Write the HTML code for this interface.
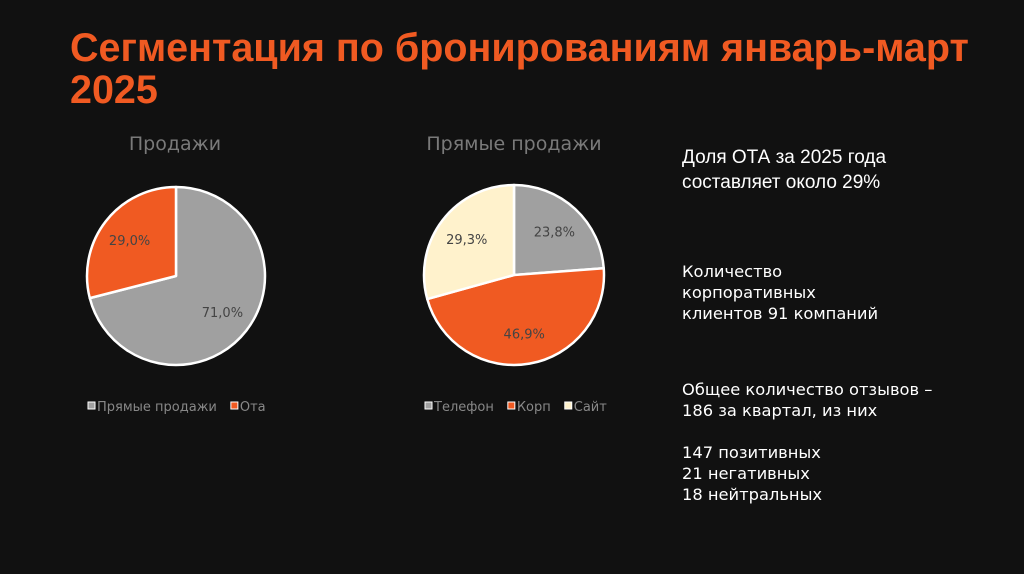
<!DOCTYPE html>
<html><head><meta charset="utf-8"><style>
body{margin:0;background:#111111;width:1024px;height:574px;overflow:hidden;font-family:"Liberation Sans","DejaVu Sans",sans-serif;}
.t{position:absolute;left:70px;top:27px;color:#f05a22;font-weight:bold;font-size:39.5px;line-height:42px;}
.side{position:absolute;left:682px;color:#fff;font-size:17px;line-height:20.5px;}
svg{position:absolute;left:0;top:0}
</style></head><body>
<div class="t">Сегментация по бронированиям январь-март<br>2025</div>
<div class="side" style="top:145px;font-size:19px;line-height:25px">Доля ОТА за 2025 года<br>составляет около 29%</div>
<div class="side" style="top:261px;font-family:'DejaVu Sans',sans-serif;font-size:16.3px;line-height:21px">Количество<br>корпоративных<br>клиентов 91 компаний</div>
<div class="side" style="top:379px;font-family:'DejaVu Sans',sans-serif;font-size:16.3px;line-height:21px">Общее количество отзывов –<br>186 за квартал, из них<br><br>147 позитивных<br>21 негативных<br>18 нейтральных</div>
<svg id="c" width="1024" height="574"></svg>
<script>
const cats1=["Прямые продажи","Ота"];
const vals1=[71.0,29.0];
const labels1=["71,0%","29,0%"];
const cats2=["Телефон","Корп","Сайт"];
const vals2=[23.8,46.9,29.3];
const labels2=["23,8%","46,9%","29,3%"];
const NS="http://www.w3.org/2000/svg";
const svg=document.getElementById('c');
function mk(t,a){const e=document.createElementNS(NS,t);for(const k in a)e.setAttribute(k,a[k]);svg.appendChild(e);return e;}
function pie(name,title,tx,cx,cy,R,cats,vals,labels,colors,legX){
  const tt=mk('text',{x:tx,y:150,'text-anchor':'middle',fill:'#7a7a7a','font-size':19,'font-family':'DejaVu Sans,sans-serif'});
  tt.textContent=title;
  
  
  const tot=vals.reduce((a,b)=>a+b,0);let acc=0;
  vals.forEach((v,i)=>{
    const a0=acc/tot*2*Math.PI,a1=(acc+v)/tot*2*Math.PI;acc+=v;
    const x0=cx+R*Math.sin(a0),y0=cy-R*Math.cos(a0),x1=cx+R*Math.sin(a1),y1=cy-R*Math.cos(a1);
    const p=mk('path',{d:`M${cx},${cy}L${x0},${y0}A${R},${R} 0 ${a1-a0>Math.PI?1:0} 1 ${x1},${y1}Z`,fill:colors[i],stroke:'#fff','stroke-width':2.5,'stroke-linejoin':'round'});
    
    
    const am=(a0+a1)/2,r=R*0.66;
    const l=mk('text',{x:cx+r*Math.sin(am),y:cy-r*Math.cos(am)+5,'text-anchor':'middle',fill:'#444','font-size':13,'font-family':'DejaVu Sans,sans-serif'});
    l.textContent=labels[i];
    
    
  });
  let x=legX;
  cats.forEach((c,i)=>{
    const r=mk('rect',{x:x,y:402,width:7,height:7,fill:colors[i],stroke:'#fff','stroke-width':1});
    
    
    const t=mk('text',{x:x+9,y:411,fill:'#888','font-size':13,'font-family':'DejaVu Sans,sans-serif'});
    t.textContent=c;
    
    
    x+=9+t.getComputedTextLength()+14;
  });
}
pie('sales-pie','Продажи',175,176,276,89,cats1,vals1,labels1,['#a0a0a0','#f05a22'],88);
pie('direct-sales-pie','Прямые продажи',514,514,275,90,cats2,vals2,labels2,['#a0a0a0','#f05a22','#fff2cc'],425);
</script>
</body></html>
